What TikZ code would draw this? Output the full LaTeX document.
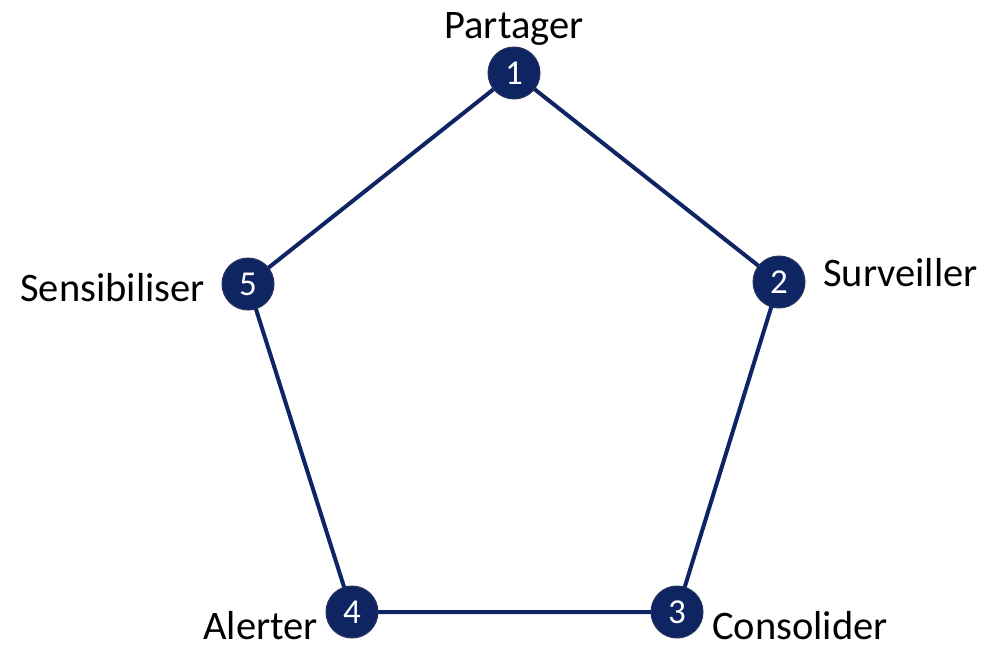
\documentclass[tikz,border=0pt]{standalone}
\usepackage{fontspec}
\setmainfont{Carlito}
\begin{document}
\definecolor{navy}{RGB}{14,36,99}
\definecolor{navyrim}{RGB}{40,52,90}
\begin{tikzpicture}[x=1pt,y=-1pt,
  stage/.style={circle,fill=navy,draw=navyrim,line width=1pt,minimum size=52pt,inner sep=0pt,
    text=white,font=\fontsize{35}{35}\selectfont},
  link/.style={draw=navy,line width=4pt},
  lbl/.style={inner sep=0pt,font=\fontsize{40.5}{40.5}\selectfont,text=black}]
\useasboundingbox (0,0) rectangle (985,645);
% ring edges drawn first, discs on top
\coordinate (c1) at (514,73);
\coordinate (c2) at (779,282);
\coordinate (c3) at (677,612);
\coordinate (c4) at (352,612);
\coordinate (c5) at (248,284);
\draw[link] (c1) -- (c2) -- (c3) -- (c4) -- (c5) -- cycle;
\node[stage] (n1) at (c1) {1};
\node[stage] (n2) at (c2) {2};
\node[stage] (n3) at (c3) {3};
\node[stage] (n4) at (c4) {4};
\node[stage] (n5) at (c5) {5};
% stage names
\node[lbl,anchor=base] (t1) at (514,38) {Partager};
\node[lbl,anchor=base west] (t2) at (823,286) {Surveiller};
\node[lbl,anchor=base east] (t3) at (205,301) {Sensibiliser};
\node[lbl,anchor=base east,text depth=0pt] (t4) at (318,639) {Alerter};
\node[lbl,anchor=base west,text depth=0pt] (t5) at (712,639) {Consolider};
\end{tikzpicture}
\end{document}
